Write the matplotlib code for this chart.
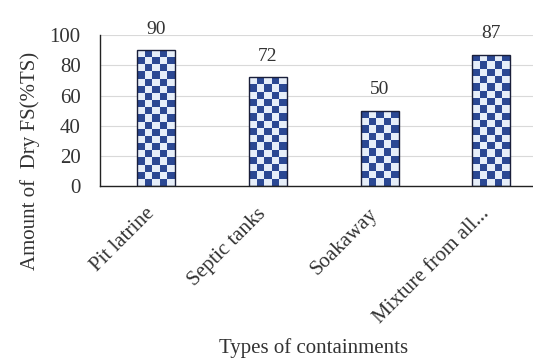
import numpy as np
import matplotlib.pyplot as plt
from matplotlib.colors import ListedColormap
from matplotlib.transforms import ScaledTranslation

categories = ['Pit latrine', 'Septic tanks', 'Soakaway', 'Mixture from all...']
dry_fs = [90, 72, 50, 87]
y_ticks = [0, 20, 40, 60, 80, 100]

plt.rcParams['font.family'] = ['Liberation Serif', 'DejaVu Serif']

fig = plt.figure(figsize=(5.33, 3.58), dpi=100)
ax = fig.add_axes([0.188, 0.48, 0.826, 0.422])

x = np.arange(len(categories))
bars = ax.bar(x, dry_fs, width=0.34, facecolor='none', edgecolor='#1a1f3a',
              linewidth=1.0, zorder=3)

# checkerboard fill, clipped to each bar (squares ~7 px)
checker_cmap = ListedColormap(['#e6eef9', '#2b4893'])
for rect in bars:
    x0, y0 = rect.get_x(), rect.get_y()
    w, h = rect.get_width(), rect.get_height()
    ny = int(round(h * 1.51 / 7.2))
    nx = 5
    board = (np.add.outer(np.arange(ny), np.arange(nx)) % 2)
    im = ax.imshow(board, cmap=checker_cmap, extent=(x0, x0 + w, y0, y0 + h),
                   origin='lower', interpolation='nearest', aspect='auto', zorder=2)
    im.set_clip_path(rect)

for xi, v in zip(x, dry_fs):
    ax.annotate(str(v), (xi, v), xytext=(0, 15), textcoords='offset points',
                ha='center', va='center', fontsize=14, color='#333333')

ax.set_xlim(-0.5, 3.44)
ax.set_ylim(0, 100)
ax.set_yticks(y_ticks)
ax.set_xticks(x)
ax.set_xticklabels(categories, rotation=45, ha='right', rotation_mode='anchor')
ax.tick_params(axis='y', length=0, labelsize=15, labelcolor='#333333', pad=14)
ax.tick_params(axis='x', length=0, labelsize=15, labelcolor='#333333', pad=13)
shift = ScaledTranslation(-8 / 72, 0, fig.dpi_scale_trans)
for lbl in ax.get_xticklabels():
    lbl.set_transform(lbl.get_transform() + shift)

ax.grid(axis='y', color='#d9d9d9', linewidth=0.8, zorder=0)
ax.set_axisbelow(True)
for side in ['top', 'right']:
    ax.spines[side].set_visible(False)
ax.spines['left'].set_color('#222222')
ax.spines['bottom'].set_color('#222222')
ax.spines['left'].set_linewidth(1.0)
ax.spines['bottom'].set_linewidth(1.0)

fig.text(0.056, 0.55, 'Amount of  Dry FS(%TS)', rotation=90, ha='center', va='center',
         fontsize=15, color='#333333')
fig.text(0.588, 0.028, 'Types of containments', ha='center', va='center',
         fontsize=15, color='#333333')

fig.savefig('out.png', dpi=100)
